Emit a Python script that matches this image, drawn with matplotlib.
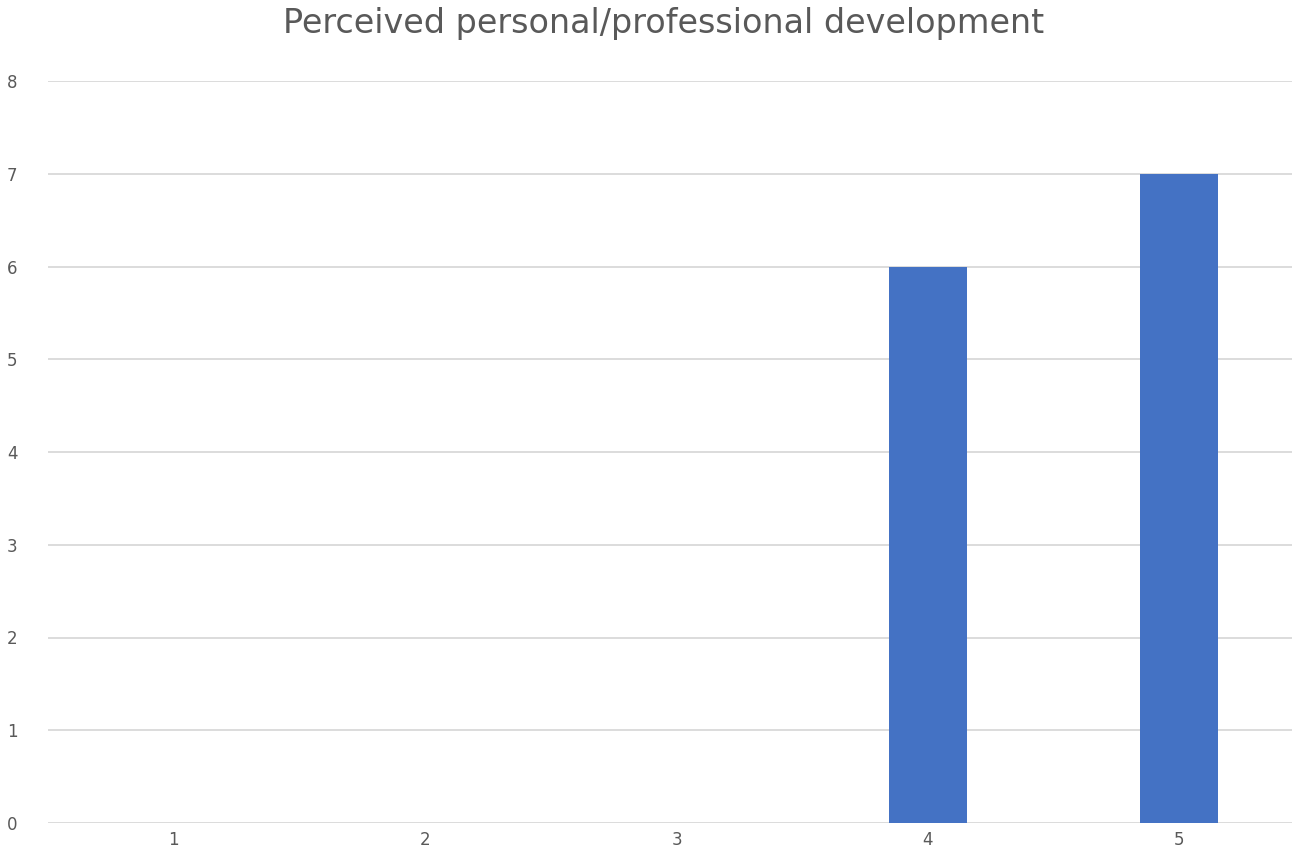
import matplotlib
matplotlib.use("Agg")
import matplotlib.pyplot as plt

categories = ["1", "2", "3", "4", "5"]
values = [0, 0, 0, 6, 7]
yticks = [0, 1, 2, 3, 4, 5, 6, 7, 8]
title = "Perceived personal/professional development"

W, H = 1292, 866
fig = plt.figure(figsize=(W / 100, H / 100), dpi=100)
left = 48 / W
right_px = 1305
bottom = (H - 823) / H
top = (H - 81) / H
ax = fig.add_axes([left, bottom, (right_px - 48) / W, top - bottom])

x = list(range(1, len(categories) + 1))
ax.bar(x, values, width=0.31, color="#4472C4", zorder=3)
ax.set_xlim(0.5, len(categories) + 0.5)
ax.set_ylim(0, 8)
ax.set_yticks(yticks)
ax.set_xticks(x)
ax.set_xticklabels(categories)
ax.grid(axis="y", color="#D9D9D9", linewidth=1.3, zorder=0)
ax.set_axisbelow(True)
for s in ax.spines.values():
    s.set_visible(False)
ax.tick_params(axis="both", length=0, labelsize=12, colors="#595959")
ax.tick_params(axis="y", pad=22)
ax.tick_params(axis="x", pad=6)
fig.text(664 / W, 1 - 24 / H, title, ha="center", va="center", fontsize=24, color="#595959")
fig.savefig("out.png", dpi=100)
